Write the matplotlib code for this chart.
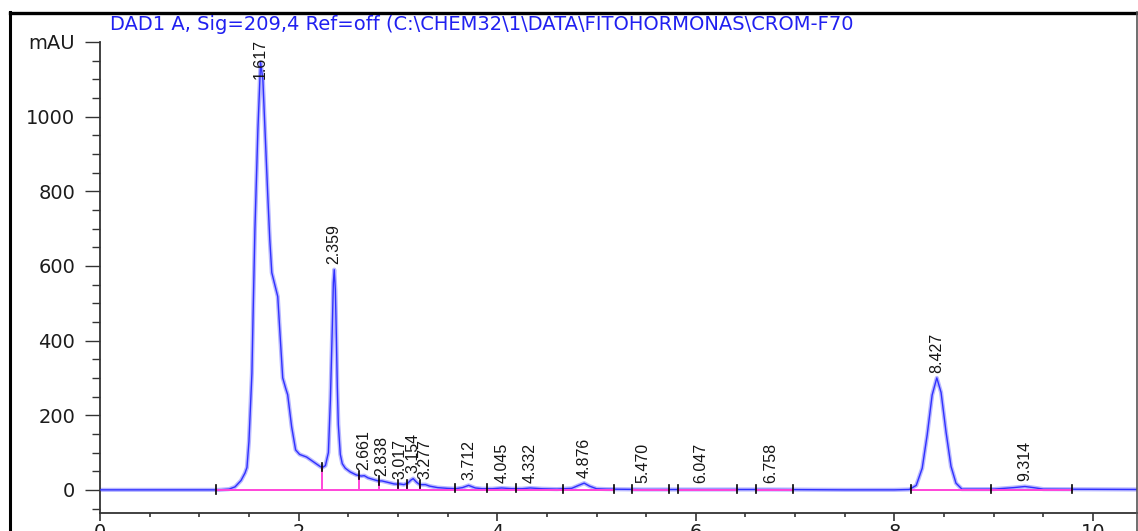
import matplotlib
matplotlib.use('Agg')
import matplotlib.pyplot as plt
from matplotlib import font_manager
from matplotlib.lines import Line2D
from matplotlib.ticker import MultipleLocator, FixedLocator, FixedFormatter

# chromatogram trace (min, mAU)
time = [0.00, 1.10, 1.20, 1.30, 1.36, 1.42, 1.46, 1.48, 1.50, 1.53, 1.54, 1.56, 1.59,
        1.617, 1.64, 1.69, 1.71, 1.73, 1.76, 1.79, 1.81, 1.84, 1.87, 1.89, 1.93, 1.97,
        2.01, 2.08, 2.15, 2.22, 2.24, 2.27, 2.30, 2.32, 2.34, 2.35, 2.359, 2.37, 2.38,
        2.39, 2.40, 2.42, 2.44, 2.47, 2.52, 2.58, 2.63, 2.661, 2.70, 2.75, 2.80, 2.838,
        2.90, 2.96, 3.00, 3.017, 3.06, 3.10, 3.13, 3.154, 3.19, 3.22, 3.277, 3.32, 3.40,
        3.50, 3.58, 3.65, 3.712, 3.78, 3.85, 3.95, 4.045, 4.15, 4.25, 4.332, 4.45, 4.60,
        4.75, 4.82, 4.876, 4.93, 5.00, 5.10, 5.470, 6.047, 6.758, 7.50, 8.00, 8.15, 8.22,
        8.28, 8.33, 8.38, 8.427, 8.47, 8.52, 8.57, 8.62, 8.68, 8.80, 9.00, 9.20, 9.314,
        9.40, 9.50, 10.44]
signal = [0, 0, 0, 2, 8, 25, 45, 60, 130, 313, 448, 697, 965,
          1145, 1100, 786, 670, 582, 550, 518, 430, 300, 272, 255, 169, 107,
          95, 88, 75, 62, 60, 65, 100, 240, 442, 555, 590, 537, 415,
          275, 175, 95, 70, 58, 48, 40, 37, 38, 32, 28, 24, 24,
          20, 16, 15, 16, 14, 18, 26, 30, 20, 14, 14, 10, 6,
          4, 3, 6, 12, 5, 3, 3, 5, 3, 3, 5, 3, 2,
          4, 12, 18, 10, 3, 2, 1, 1, 1, 0, 0, 1, 12,
          58, 147, 254, 300, 261, 155, 63, 18, 2, 2, 2, 6, 9,
          6, 2, 1]

# integration results
peak_rt = [1.617, 2.359, 2.661, 2.838, 3.017, 3.154, 3.277, 3.712, 4.045, 4.332,
           4.876, 5.470, 6.047, 6.758, 8.427, 9.314]
peak_height = [1145, 590, 38, 24, 16, 30, 14, 12, 5, 5, 18, 1, 1, 1, 300, 9]
bound_t = [1.17, 2.24, 2.61, 2.81, 3.00, 3.09, 3.22, 3.58, 3.90, 4.19, 4.66, 5.18,
           5.36, 5.73, 5.82, 6.41, 6.61, 6.98, 8.17, 8.97, 9.79]
bound_v = [0, 60, 38, 24, 15, 15, 14, 3, 3, 3, 2, 2, 1, 1, 1, 1, 1, 1, 1, 2, 1]
drop_t = [2.24, 2.61, 2.81, 3.00, 3.09, 3.22]
drop_v = [60, 38, 24, 15, 15, 14]
base_start = [1.17, 5.36, 5.82, 6.61, 8.17]
base_end = [5.18, 5.73, 6.41, 6.98, 9.79]

title = r'DAD1 A, Sig=209,4 Ref=off (C:\CHEM32\1\DATA\FITOHORMONAS\CROM-F70'

try:
    font_manager.findfont('Liberation Sans Narrow', fallback_to_default=False)
    lab_font, lab_size = 'Liberation Sans Narrow', 13
except ValueError:
    lab_font, lab_size = 'Liberation Sans', 11.5

W, H = 1138, 531
fig = plt.figure(figsize=(W / 100, H / 100), dpi=100)
ax = fig.add_axes([100 / W, 18 / H, 1037 / W, 471 / H])
ax.set_xlim(0, 1037 / 99.3)
ax.set_ylim(-62, 1200)

ax.plot(time, signal, color='#b8b8ff', lw=3.0, solid_capstyle='round', zorder=2)
ax.plot(time, signal, color='#3030ff', lw=1.0, zorder=3)

mag = '#ff45d8'
for a, b in zip(base_start, base_end):
    ax.plot([a, b], [0, 0], color=mag, lw=1.4, zorder=4)
ax.vlines(drop_t, 0, drop_v, color=mag, lw=1.4, zorder=4)
for t, v in zip(bound_t, bound_v):
    ax.plot([t, t], [v - 10, v + 12], color='black', lw=1.2, zorder=5)

for t, h in zip(peak_rt, peak_height):
    y = max(h + 14, 19)
    va = 'bottom'
    if y > 1100:
        y, va = 1208, 'top'
    ax.text(t, y, '%.3f' % t, rotation=90, ha='center', va=va, family=lab_font,
            fontsize=lab_size, color='#151515', clip_on=False, zorder=6)

for s in ['top', 'right']:
    ax.spines[s].set_visible(False)
for s in ['left', 'bottom']:
    ax.spines[s].set_color('#333333')
    ax.spines[s].set_linewidth(1.3)

ax.yaxis.set_major_locator(FixedLocator([0, 200, 400, 600, 800, 1000, 1200]))
ax.yaxis.set_major_formatter(FixedFormatter(['0', '200', '400', '600', '800', '1000', 'mAU']))
ax.yaxis.set_minor_locator(MultipleLocator(50))
ax.xaxis.set_major_locator(MultipleLocator(2))
ax.xaxis.set_minor_locator(MultipleLocator(0.5))
ax.tick_params(axis='y', which='major', direction='out', length=10.8, width=1.0,
               pad=7, labelsize=14, colors='#333333', labelcolor='#1c1c1c')
ax.tick_params(axis='y', which='minor', direction='out', length=5.8, width=1.0, colors='#333333')
ax.tick_params(axis='x', which='major', direction='out', length=5.8, width=1.2,
               pad=1.5, labelsize=14, colors='#333333', labelcolor='#1c1c1c')
ax.tick_params(axis='x', which='minor', direction='out', length=3, width=1.2, colors='#333333')
for lab in ax.get_xticklabels() + ax.get_yticklabels():
    lab.set_family('DejaVu Sans')

fig.text(110 / W, 1 - 29.5 / H, title, color='#2020f0', fontsize=14,
         family='DejaVu Sans', ha='left', va='baseline')

# outer frame of the report page
fig.add_artist(Line2D([10 / W, 10 / W], [0, 1 - 12 / H], color='black', lw=2.2))
fig.add_artist(Line2D([10 / W, 1137 / W], [1 - 12.5 / H, 1 - 12.5 / H], color='black', lw=2.4))
fig.add_artist(Line2D([1137 / W, 1137 / W], [0, 1 - 12 / H], color='#555555', lw=1.2))

fig.savefig('out.png', dpi=100, facecolor='white')
